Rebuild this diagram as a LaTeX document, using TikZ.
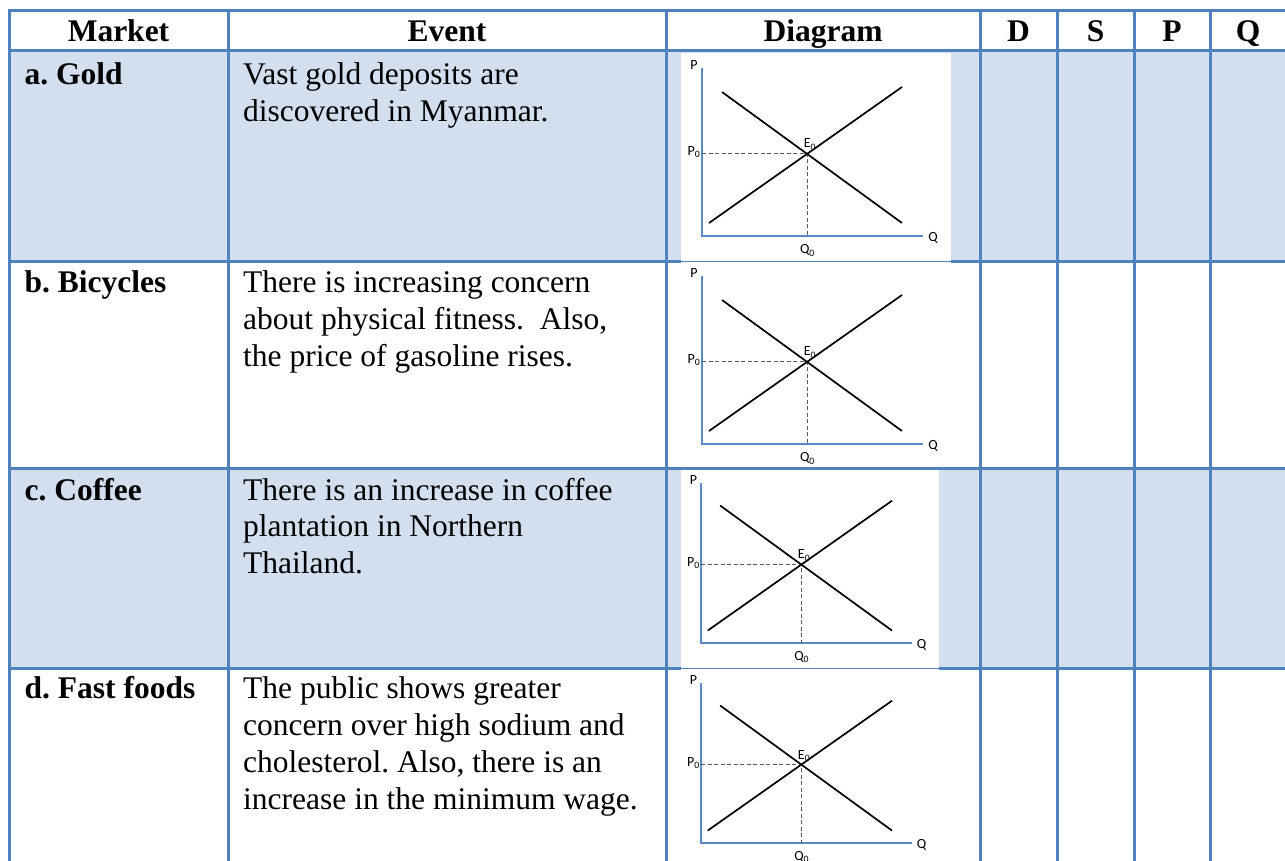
\documentclass[tikz,border=0pt]{standalone}
\usepackage{fontspec}
\setmainfont{Liberation Serif}
\newfontfamily\lblfont{Carlito}
\definecolor{bordc}{RGB}{79,129,189}
\definecolor{shadec}{RGB}{211,223,238}
\definecolor{axisc}{RGB}{91,138,202}
\definecolor{guidec}{RGB}{90,90,90}
\tikzset{
  cellline/.style={draw=bordc, line width=3pt},
  thinline/.style={draw=bordc, line width=1pt},
  hdr/.style={font=\bfseries\fontsize{31.5}{36}\selectfont, anchor=base, inner sep=0pt},
  mkt/.style={font=\bfseries\fontsize{31.5}{36}\selectfont, anchor=base west, inner sep=0pt},
  evt/.style={font=\fontsize{31.5}{36}\selectfont, anchor=base west, inner sep=0pt},
  lbl/.style={font=\lblfont\fontsize{14}{16}\selectfont, inner sep=0pt},
  axisline/.style={draw=axisc, line width=1.8pt},
  curve/.style={draw=black, line width=1.7pt},
  guide/.style={draw=guidec, line width=1.1pt, dash pattern=on 4pt off 2.5pt},
}
\newcommand\mktdiag[4]{%
  \begin{scope}[shift={(#2,#3)}, x=#4pt, y=#4pt]
    \coordinate (#1o) at (0,0);
    \coordinate (#1yt) at (0,168);
    \coordinate (#1xe) at (221,0);
    \coordinate (#1d1) at (20,144);
    \coordinate (#1d2) at (200,13);
    \coordinate (#1s1) at (7,13);
    \coordinate (#1s2) at (200,149);
    \coordinate (#1e) at (intersection of #1d1--#1d2 and #1s1--#1s2);
    \draw[axisline] (#1yt) -- (#1o) -- (#1xe);
    \draw[guide] (#1o |- #1e) -- (#1e) -- (#1e |- #1o);
    \draw[curve] (#1d1) -- (#1d2);
    \draw[curve] (#1s1) -- (#1s2);
    \node[lbl] (#1P) at (-8,171) {P};
    \node[lbl] (#1P0) at (-8,84) {P\textsubscript{0}};
    \node[lbl] (#1E0) at (108,91.5) {E\textsubscript{0}};
    \node[lbl] (#1Q) at (231,-2) {Q};
    \node[lbl] (#1Q0) at (105.5,-14.5) {Q\textsubscript{0}};
  \end{scope}}
\begin{document}
\begin{tikzpicture}[x=1pt, y=-1pt]
  \useasboundingbox (0,0) rectangle (1285,861);
  \clip (0,0) rectangle (1285,861);
  % shading
  \fill[shadec] (9,51) rectangle (1295,261);
  \fill[shadec] (9,468) rectangle (1295,668);
  % grid
  \foreach \yy in {11,51,261,468,668}
    \draw[cellline] (7.5,\yy) -- (1295,\yy);
  \foreach \xx in {9,228,666,980,1057,1134,1210}
    \draw[cellline] (\xx,9.5) -- (\xx,870);
  % diagram images (white backgrounds)
  \fill[white] (681,53) rectangle (951,263);
  \draw[thinline] (681,261.5) -- (951,261.5);
  \fill[white] (681,470) rectangle (939,670);
  \draw[thinline] (681,668.5) -- (939,668.5);
  % header
  \node[hdr] (hMarket) at (118.5,41.5) {Market};
  \node[hdr] (hEvent) at (447,41.5) {Event};
  \node[hdr] (hDiagram) at (823,41.5) {Diagram};
  \node[hdr] (hD) at (1018.5,41.5) {D};
  \node[hdr] (hS) at (1095.5,41.5) {S};
  \node[hdr] (hP) at (1172,41.5) {P};
  \node[hdr] (hQ) at (1248,41.5) {Q};
  % row a
  \node[mkt] (ma) at (24.5,85) {a.\ Gold};
  \node[evt] (ea1) at (243,85) {Vast gold deposits are};
  \node[evt] (ea2) at (243,121.5) {discovered in Myanmar.};
  % row b
  \node[mkt] (mb) at (24.5,292.7) {b.\ Bicycles};
  \node[evt] (eb1) at (243,292.7) {There is increasing concern};
  \node[evt] (eb2) at (243,329.5) {about physical fitness.\ \ Also,};
  \node[evt] (eb3) at (243,366.3) {the price of gasoline rises.};
  % row c
  \node[mkt] (mc) at (24.5,500) {c.\ Coffee};
  \node[evt] (ec1) at (243,500) {There is an increase in coffee};
  \node[evt] (ec2) at (243,536.5) {plantation in Northern};
  \node[evt] (ec3) at (243,573) {Thailand.};
  % row d
  \node[mkt] (md) at (24.5,698.3) {d.\ Fast foods};
  \node[evt] (ed1) at (243,698.3) {The public shows greater};
  \node[evt] (ed2) at (243,735) {concern over high sodium and};
  \node[evt] (ed3) at (243,772) {cholesterol.\ Also, there is an};
  \node[evt] (ed4) at (243,809) {increase in the minimum wage.};
  % diagrams
  \mktdiag{A}{702}{236}{1}
  \mktdiag{B}{702}{444}{1}
  \mktdiag{C}{701}{643}{0.955}
  \mktdiag{D}{701}{843}{0.955}
\end{tikzpicture}
\end{document}
